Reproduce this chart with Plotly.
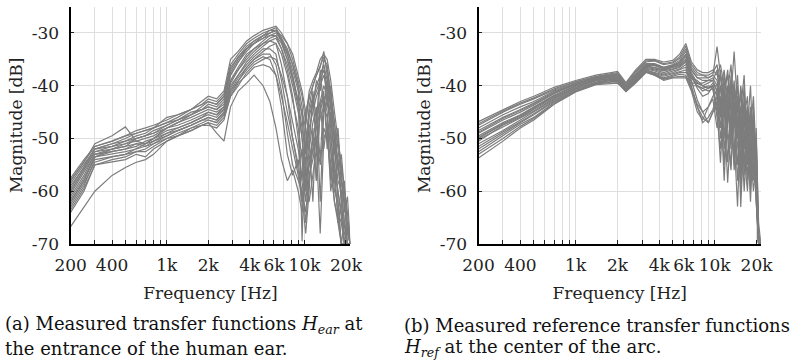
import math
import plotly.graph_objects as go

# ---------------- data ----------------
freq_ear = [200, 250, 300, 400, 500, 600, 700, 800, 1000, 1200, 1500, 1800, 2000, 2300, 2600,
            2900, 3300, 3800, 4300, 5000, 5600, 6200, 6800, 7500, 8200, 9000, 9600, 10200,
            10800, 11500, 12200, 13000, 13800, 14600, 15500, 16500, 17500, 18500, 19500, 20500, 21500]

ear_1 = [-57.5, -54, -51.5, -50.5, -49.5, -48.5, -48, -47.5, -46.5, -45.5, -44.5, -43.5, -42.5, -43, -41.5,
         -36, -34, -32, -31, -30, -29.5, -29, -31, -33, -36, -40, -44, -52, -44, -40, -38, -36, -34.5, -37,
         -42, -48, -52, -58, -62, -67, -70]
ear_2 = [-59, -55.5, -52, -51, -50.5, -49.5, -49, -48, -47, -46.5, -45, -44.5, -44, -44.5, -43,
         -38, -35.5, -33, -31.5, -30.5, -30, -29.5, -30.5, -32, -34, -38, -41, -45, -50, -43, -41, -39, -37, -40,
         -46, -53, -50, -56, -64, -61, -70]
ear_3 = [-60, -56, -52.5, -52, -51.5, -50, -49.5, -49, -48, -47, -46, -45, -44.5, -45, -44,
         -39, -37, -34.5, -33, -31.5, -30.5, -30, -31.5, -34, -37, -41, -46, -55, -48, -45, -42, -40, -38, -41,
         -50, -56, -60, -65, -70, -66, -70]
ear_4 = [-61, -57, -53, -52.5, -52, -51.5, -50.5, -50, -48.5, -48, -47, -46, -45.5, -46, -44.5,
         -40, -38, -35.5, -34, -32.5, -31.5, -31, -33, -36, -40, -45, -50, -60, -52, -47, -44, -62, -45, -43,
         -48, -58, -54, -62, -68, -70, -70]
ear_5 = [-62, -58, -53.5, -53, -52.5, -52, -51.5, -51, -49.5, -48.5, -47.5, -46.5, -46, -46.5, -45,
         -41, -38.5, -36.5, -35, -33.5, -32.5, -32, -34, -38, -43, -48, -54, -62, -55, -50, -46, -43, -40, -42,
         -47, -52, -58, -60, -66, -70, -70]
ear_6 = [-63, -59, -54, -53.5, -53, -52.5, -52.5, -51.5, -50, -49.5, -48, -47.5, -47, -47.5, -46,
         -42, -40, -37.5, -36, -35, -34.5, -35, -38, -42, -47, -52, -58, -66, -58, -52, -48, -45, -42, -45,
         -52, -60, -62, -70, -70, -70, -70]
ear_7 = [-66.7, -63, -60, -57, -55.5, -54.5, -54, -53, -50.5, -49.5, -48.5, -47.5, -47, -49, -50.5,
         -44, -41, -39.5, -38, -40, -43, -48, -54, -58, -56, -60, -64, -58, -55, -52, -50, -55, -48, -50,
         -56, -62, -66, -70, -70, -70, -70]
ear_8 = [-58, -54.5, -51, -49.5, -47.8, -50.5, -51, -50, -48, -47, -45.5, -44, -43, -43.5, -42,
         -37, -34.5, -33, -32, -31, -30, -29.5, -31, -33.5, -36, -40, -69.5, -45, -42, -40, -38, -36.5, -33.5, -38,
         -44, -50, -55, -60, -66, -70, -70]
ear_9 = [-58.5, -55, -52, -51, -50, -49, -48.5, -48, -46, -45.5, -44.5, -43, -42, -42.5, -41,
         -35, -33.5, -31.5, -30.5, -29.5, -29, -28.7, -30, -32, -35, -39, -42, -47, -41, -39, -37.5, -35, -34, -35,
         -39, -45, -50, -55, -60, -64, -70]
ear_10 = [-64, -60, -55, -54.5, -54, -53, -53.5, -52, -50.5, -49.5, -48.5, -47.5, -47.5, -48, -46.5,
          -42, -39.5, -38, -36.5, -36, -36.5, -38, -42, -47, -52, -57, -62, -56, -62, -57, -52, -68, -50, -48,
          -55, -62, -65, -70, -70, -70, -70]
ear_11 = [-60.5, -56.5, -53, -52, -51, -50.5, -50, -49.5, -48, -47.5, -46.5, -45.5, -45, -45.5, -44,
          -39.5, -37, -35, -33.5, -32, -31, -30.5, -32, -35, -38.5, -43, -48, -53, -46, -43, -40, -38, -36, -39,
          -44, -50, -56, -58, -62, -68, -70]
ear_12 = [-62.5, -58.5, -54.5, -53.5, -53, -52, -51, -50.5, -49, -48.5, -47.5, -46.5, -46.5, -47, -45.5,
          -41.5, -39, -36.5, -35, -34, -34, -36, -41, -49, -55, -58, -60, -64, -57, -54, -50, -46, -44, -46,
          -52, -58, -64, -66, -70, -70, -70]
ear_13 = [-59.5, -55.5, -52, -51.5, -51, -50, -49.5, -48.5, -47.5, -46.5, -45.5, -44.5, -43.5, -44, -42.5,
          -37.5, -35, -33, -32, -31, -30.5, -30.5, -33, -37, -42, -50, -58, -47, -42, -44, -39, -41, -35, -36,
          -41, -47, -56, -53, -60, -66, -70]
ear_14 = [-61.5, -57.5, -53.5, -52, -51.5, -51, -51, -50, -49, -48, -47, -46, -45, -45.5, -44.5,
          -39, -36.5, -34, -33, -32, -31.5, -32, -36, -42, -50, -56, -61, -68, -60, -48, -58, -44, -41, -52,
          -45, -55, -60, -64, -70, -70, -70]
ear_15 = [-60, -56, -52.5, -51.5, -50.5, -50, -49.5, -49, -47.5, -46.5, -45.5, -44.5, -44, -44.5, -43.5,
          -38, -35.5, -33.5, -32, -30.5, -29.5, -29.5, -31.5, -34, -38, -43, -45, -48, -52, -41, -47, -37, -45, -39,
          -43, -51, -48, -58, -62, -70, -70]
ear_16 = [-63.5, -59.5, -55, -54, -53.5, -52.5, -52, -51, -50, -49, -48, -47, -46.5, -47, -45.5,
          -41, -39, -37, -35.5, -34.5, -35, -38, -44, -53, -57, -54, -62, -58, -50, -62, -45, -54, -42, -49,
          -58, -50, -62, -70, -66, -70, -70]
ear_17 = [-58, -54.5, -51.5, -50.5, -49.5, -49, -48.5, -48, -47, -46, -44.5, -43.5, -43, -43.5, -42,
          -36.5, -34.5, -32.5, -31.5, -30.5, -30, -29.5, -31.5, -35, -39, -44, -50, -56, -45, -42, -52, -38, -36, -44,
          -40, -50, -54, -62, -58, -68, -70]
ear_18 = [-62, -58, -53.5, -52.5, -52, -51, -51.5, -50.5, -49.5, -48.5, -47.5, -46.5, -46, -46.5, -45,
          -40.5, -38, -36, -34.5, -33, -33, -34, -39, -45, -50, -55, -52, -60, -54, -50, -58, -43, -52, -47,
          -60, -55, -66, -62, -70, -70, -70]

freq_ref = [200, 300, 400, 500, 700, 1000, 1400, 1800, 2000, 2300, 2700, 3200, 3700, 4300, 5000,
            5600, 6200, 6800, 7500, 8200, 9000, 9700, 10400, 11000, 11700, 12400, 13100, 13800,
            14600, 15400, 16300, 17200, 18100, 19000, 19900, 20700, 21500]

ref_1 = [-46.8, -44.5, -43, -42, -40.3, -39, -38, -37.5, -37.3, -39.4, -37, -35, -35, -35.5, -35.2,
         -34, -32, -35.5, -37, -37.5, -37.5, -37, -38, -36, -40, -38, -42, -40, -45, -42, -48, -44, -52,
         -46, -55, -70, -70]
ref_2 = [-47.5, -45, -43.5, -42.5, -40.8, -39.3, -38.3, -37.8, -37.7, -39.8, -37.5, -35.5, -35.3, -36, -35.7,
         -34.8, -33, -36.5, -38, -38, -38.5, -38, -32.6, -38, -42, -37, -45, -39, -48, -40, -46, -50, -44,
         -50, -58, -68, -70]
ref_3 = [-48.5, -46, -44.5, -43.3, -41.2, -39.6, -38.5, -38, -38, -40.2, -38, -36, -36, -36.5, -36.2,
         -35.5, -34, -37, -38.5, -39, -39, -38.5, -40, -38, -44, -41, -36, -45, -38, -50, -43, -55, -48,
         -42, -54, -70, -70]
ref_4 = [-49.5, -47, -45.5, -44, -41.8, -40, -38.8, -38.3, -38.3, -40.5, -38.3, -36.3, -36.5, -37, -36.5,
         -36, -35, -38, -39.5, -39.5, -39, -39, -41, -43, -39, -47, -42, -33.5, -44, -48, -40, -52, -46,
         -54, -60, -70, -70]
ref_5 = [-50.5, -47.5, -46, -44.5, -42.2, -40.3, -39, -38.6, -38.6, -40.7, -38.6, -36.7, -37, -37.5, -37,
         -36.5, -35.5, -39, -42.7, -45, -47, -45, -43, -40, -46, -43, -50, -45, -55, -47, -52, -49, -58,
         -48, -62, -70, -70]
ref_6 = [-51, -48.5, -46.5, -45, -42.6, -40.6, -39.3, -38.8, -38.8, -40.9, -39, -37, -37.5, -38, -37.5,
         -37, -36.5, -40, -44, -47, -46, -44.5, -42, -48, -40, -54.5, -45, -48, -42, -63, -48, -57, -50,
         -56, -52, -69, -70]
ref_7 = [-52, -49, -47, -45.5, -43, -40.9, -39.5, -39, -39, -41, -39.2, -37.3, -37.8, -38.5, -38,
         -37.5, -37.5, -38.5, -40, -40.5, -40, -40.5, -45, -42, -58, -44, -49, -41, -50, -44, -57, -46, -55,
         -44, -60, -70, -70]
ref_8 = [-53.7, -50.5, -48, -46.5, -43.5, -41.2, -39.8, -39.5, -39.5, -41.1, -39.5, -37.5, -38, -39, -38.5,
         -38.5, -38.5, -41, -45, -46.5, -44, -42, -41, -50, -44, -58.4, -47, -53, -46, -60, -50, -58, -52,
         -60, -55, -70, -70]
ref_9 = [-48, -45.5, -44, -43, -41, -39.5, -38.4, -37.9, -37.8, -40, -37.8, -35.8, -35.8, -36.5, -36,
         -35.2, -33.5, -37, -38.5, -38.5, -38.5, -38, -39, -44, -38, -42, -52, -40, -47, -56, -42, -48, -40,
         -54, -50, -66, -70]
ref_10 = [-49, -46.5, -45, -43.7, -41.5, -39.8, -38.6, -38.2, -38.1, -40.4, -38.1, -36.1, -36.2, -36.8, -36.3,
          -35.8, -34.5, -38, -40.5, -42, -41.5, -40, -42, -37, -50, -40, -44, -55, -43, -46, -60, -48, -52,
          -46, -62, -70, -70]
ref_11 = [-50, -47.3, -45.8, -44.3, -42, -40.1, -38.9, -38.4, -38.4, -40.6, -38.4, -36.5, -36.8, -37.2, -36.8,
          -36.3, -35.3, -38.5, -39, -40, -40.5, -40, -40, -46, -41, -48, -38, -50, -62.9, -46, -52, -44, -56,
          -49, -57, -70, -70]
ref_12 = [-51.5, -48.8, -46.8, -45.3, -42.8, -40.7, -39.4, -38.9, -38.9, -40.9, -39.1, -37.1, -37.6, -38.2, -37.7,
          -37.3, -37, -40.5, -44, -46, -47, -45, -44, -54.6, -42, -50, -56, -44, -52, -58, -45, -55, -50,
          -58, -48, -68, -70]
ref_13 = [-47.2, -44.8, -43.3, -42.3, -40.6, -39.2, -38.2, -37.7, -37.5, -39.6, -37.3, -35.3, -35.2, -35.8, -35.5,
          -34.5, -32.5, -36, -37.5, -38, -38, -37.5, -36, -41, -37, -44, -39, -46, -40, -52, -44, -50, -45,
          -51, -56, -70, -70]
ref_14 = [-50.2, -47.8, -46.2, -44.8, -42.4, -40.4, -39.1, -38.7, -38.7, -40.8, -38.8, -36.8, -37.2, -37.8, -37.2,
          -36.8, -36, -39.5, -39.5, -40, -40.5, -40, -44, -40, -52, -46, -42, -56, -47, -41, -55, -47, -60,
          -52, -61, -70, -70]
ref_15 = [-48.8, -46.2, -44.7, -43.5, -41.3, -39.7, -38.5, -38.1, -38, -40.3, -38, -36, -36.1, -36.7, -36.2,
          -35.6, -34.2, -37.5, -39.5, -40, -39.5, -39, -37, -45, -41, -38, -48, -43, -50, -44, -38, -53, -46,
          -57, -50, -70, -70]
ref_16 = [-52.5, -49.5, -47.3, -46, -43.2, -41, -39.6, -39.2, -39.2, -41, -39.3, -37.4, -37.9, -38.7, -38.2,
          -37.8, -38, -40, -40, -40.5, -41, -40.5, -46, -52, -43, -48, -55, -45, -58, -48, -53, -60, -49,
          -45, -59, -70, -70]
ref_17 = [-49.8, -47.2, -45.6, -44.1, -41.9, -40, -38.8, -38.3, -38.3, -40.5, -38.4, -36.4, -36.6, -37.1, -36.6,
          -36.1, -35, -38.2, -40, -41, -40.5, -39.5, -41, -38, -42, -46, -40, -47, -42, -54, -46, -42, -56,
          -50, -53, -70, -70]
ref_18 = [-53, -50, -47.7, -46.2, -43.4, -41.1, -39.7, -39.3, -39.3, -41.1, -39.4, -37.4, -38, -38.8, -38.4,
          -38.2, -38.3, -40.5, -43.5, -45, -44, -42.5, -48, -44, -55, -41, -50, -52, -46, -57, -44, -50, -62,
          -47, -58, -70, -70]

ear_curves = [ear_1, ear_2, ear_3, ear_4, ear_5, ear_6, ear_7, ear_8, ear_9, ear_10, ear_11, ear_12,
              ear_13, ear_14, ear_15, ear_16, ear_17, ear_18]
ref_curves = [ref_1, ref_2, ref_3, ref_4, ref_5, ref_6, ref_7, ref_8, ref_9, ref_10, ref_11, ref_12,
              ref_13, ref_14, ref_15, ref_16, ref_17, ref_18]

grid_freqs = [200, 300, 400, 500, 600, 700, 800, 900, 1000, 2000, 3000, 4000, 5000, 6000, 7000,
              8000, 9000, 10000, 20000]
tick_labels = {200: "200", 400: "400", 1000: "1k", 2000: "2k", 4000: "4k", 6000: "6k",
               10000: "10k", 20000: "20k"}
y_ticks = [-70, -60, -50, -40, -30]
y_tick_text = ["-70", "-60", "-50", "-40", "-30"]

caption_a = ["(a) Measured transfer functions <i>H</i><sub><i>ear</i></sub> at",
             "the entrance of the human ear."]
caption_b = ["(b) Measured reference transfer functions",
             "<i>H</i><sub><i>ref</i></sub> at the center of the arc."]

# ---------------- figure ----------------
W, H = 799, 362
LINE = "rgb(125,125,125)"
SERIF = "DejaVu Serif"
TXT = "#222"
F_MIN, F_MAX = 200, 21500
fig = go.Figure()

for c in ear_curves:
    fig.add_trace(go.Scatter(x=freq_ear, y=c, mode="lines", xaxis="x", yaxis="y",
                             line=dict(color=LINE, width=1.2), showlegend=False, hoverinfo="skip"))
for c in ref_curves:
    fig.add_trace(go.Scatter(x=freq_ref, y=c, mode="lines", xaxis="x2", yaxis="y2",
                             line=dict(color=LINE, width=1.2), showlegend=False, hoverinfo="skip"))

def xax(domain, anchor):
    return dict(
        domain=domain, anchor=anchor, type="log",
        range=[math.log10(F_MIN), math.log10(F_MAX)],
        tickmode="array", tickvals=grid_freqs,
        ticktext=[tick_labels.get(f, "") for f in grid_freqs],
        showgrid=True, gridcolor="#dedede", gridwidth=1,
        showline=True, linecolor="black", linewidth=1.5,
        ticks="inside", ticklen=4, tickcolor=TXT, tickwidth=1,
        ticklabelstandoff=5,
        tickfont=dict(family=SERIF, size=17, color=TXT),
        title=dict(text="Frequency [Hz]", font=dict(family=SERIF, size=17, color=TXT), standoff=13),
        zeroline=False, fixedrange=True, automargin=False,
    )

def yax(anchor):
    return dict(
        domain=[(H - 244) / H, (H - 6.6) / H], anchor=anchor,
        range=[-70, -25], tickmode="array", tickvals=y_ticks, ticktext=y_tick_text,
        showgrid=True, gridcolor="#dedede", gridwidth=1,
        showline=True, linecolor="black", linewidth=2,
        ticks="inside", ticklen=3, tickcolor=TXT,
        ticklabelstandoff=6,
        tickfont=dict(family=SERIF, size=17, color=TXT),
        title=dict(text="Magnitude [dB]", font=dict(family=SERIF, size=17, color=TXT), standoff=5),
        zeroline=False, fixedrange=True, automargin=False,
    )

fig.update_layout(
    template="none",
    width=W, height=H, margin=dict(l=0, r=0, t=0, b=0, autoexpand=False),
    paper_bgcolor="white", plot_bgcolor="white",
    xaxis=xax([70.6 / W, 350.3 / W], "y"),
    yaxis=yax("x"),
    xaxis2=xax([478.5 / W, 760.9 / W], "y2"),
    yaxis2=yax("x2"),
)

CAP = dict(family=SERIF, size=18, color="#111")
for txt, ycen in zip(caption_a, [325, 348]):
    fig.add_annotation(text=txt, xref="paper", yref="paper", x=3 / W, y=(H - ycen) / H,
                       xanchor="left", yanchor="middle", showarrow=False, font=CAP)
for txt, ycen in zip(caption_b, [325, 348]):
    fig.add_annotation(text=txt, xref="paper", yref="paper", x=402 / W, y=(H - ycen) / H,
                       xanchor="left", yanchor="middle", showarrow=False, font=CAP)

fig.write_html("out.html")
